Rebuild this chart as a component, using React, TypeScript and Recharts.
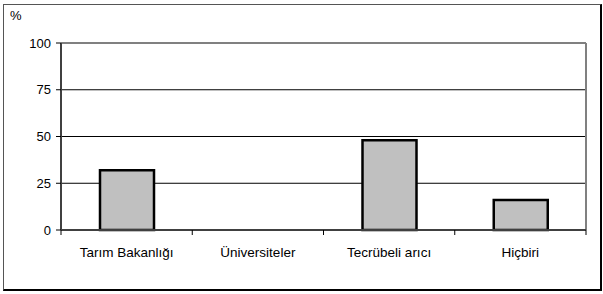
import React from "react";
import { BarChart, Bar, XAxis, YAxis, CartesianGrid } from "recharts";

const categories = ["Tarım Bakanlığı", "Üniversiteler", "Tecrübeli arıcı", "Hiçbiri"];
const values = [32, 0, 48, 16];
const yTicks = [0, 25, 50, 75, 100];

const data = categories.map((c, i) => ({ name: c, value: values[i] }));

const font = "'Liberation Sans', Arial, sans-serif";
const X_TICK_SIZE = 5;
const X_TICK_MARGIN = 12;

const CatTick = (props: any) => {
  const { x, y, payload, index, visibleTicksCount } = props;
  const half = payload.offset || 0;
  const axisY = y - X_TICK_SIZE - X_TICK_MARGIN;
  return (
    <g>
      <line x1={x - half} x2={x - half} y1={axisY} y2={axisY + X_TICK_SIZE} stroke="#000" />
      {index === visibleTicksCount - 1 && (
        <line x1={x + half} x2={x + half} y1={axisY} y2={axisY + X_TICK_SIZE} stroke="#000" />
      )}
      <text x={x} y={y} dy="0.71em" textAnchor="middle" fill="#000" fontSize={13.5} fontFamily={font}>
        {payload.value}
      </text>
    </g>
  );
};

export default function App() {
  return (
    <div style={{ position: "absolute", left: 0, top: 0, width: 603, height: 294, background: "#fff", fontFamily: font }}>
      <div
        style={{
          position: "absolute",
          left: 3,
          top: 4,
          width: 596,
          height: 284,
          borderTop: "1px solid #555",
          borderLeft: "1px solid #555",
          borderRight: "2px solid #000",
          borderBottom: "2px solid #000",
        }}
      />
      <div style={{ position: "absolute", left: 10, top: 8, fontSize: 13, color: "#000" }}>%</div>
      <BarChart
        width={603}
        height={294}
        data={data}
        margin={{ top: 43, right: 17, left: 0, bottom: 30 }}
        style={{ position: "absolute", left: 0, top: 0 }}
      >
        <CartesianGrid vertical={false} stroke="#000" strokeWidth={1} />
        <CartesianGrid
          stroke="#808080"
          strokeWidth={2}
          horizontalCoordinatesGenerator={({ offset }: any) => [offset.top]}
          verticalCoordinatesGenerator={({ offset }: any) => [offset.left + offset.width]}
        />
        <XAxis
          dataKey="name"
          tickLine={false}
          tickSize={X_TICK_SIZE}
          tickMargin={X_TICK_MARGIN}
          height={34}
          axisLine={{ stroke: "#404040", strokeWidth: 2 }}
          tick={<CatTick />}
          interval={0}
        />
        <YAxis
          domain={[0, 100]}
          ticks={yTicks}
          width={61}
          tickSize={5}
          tickMargin={5}
          axisLine={{ stroke: "#404040", strokeWidth: 2 }}
          tickLine={{ stroke: "#000" }}
          tick={{ fill: "#000", fontSize: 13, fontFamily: font }}
        />
        <Bar
          dataKey="value"
          fill="#c0c0c0"
          stroke="#000"
          strokeWidth={2.5}
          barSize={54}
          isAnimationActive={false}
        />
      </BarChart>
    </div>
  );
}
